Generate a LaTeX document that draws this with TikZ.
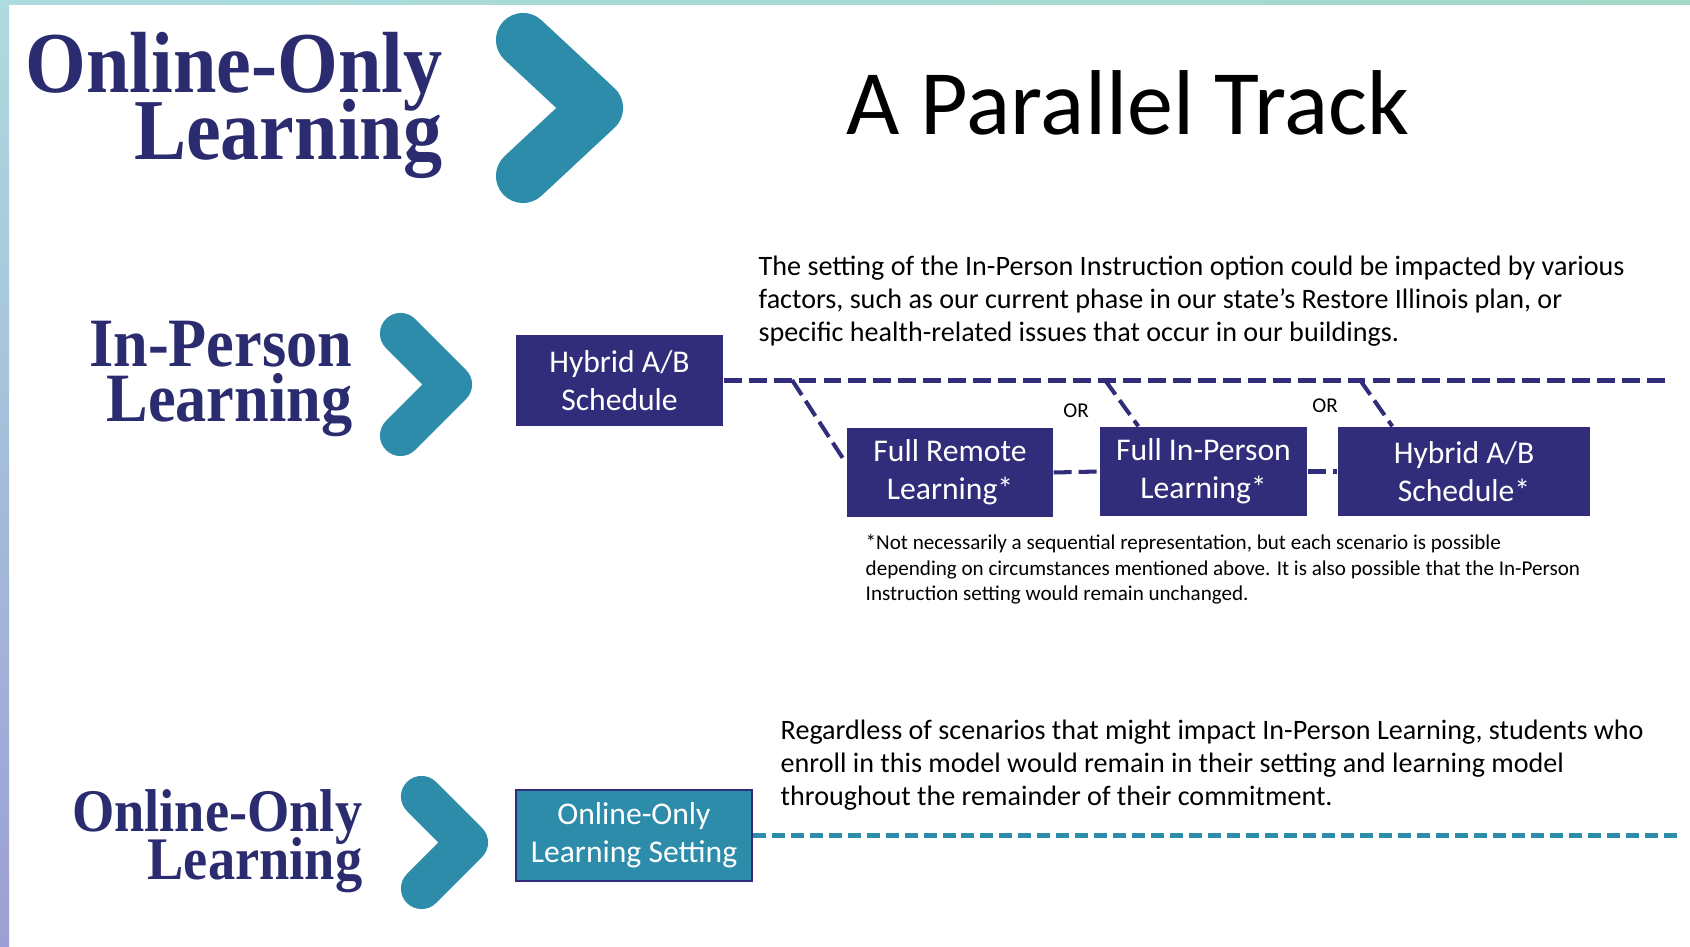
\documentclass[tikz,border=0pt]{standalone}
\usepackage{fontspec}
\setmainfont{Carlito}
\newfontfamily\headfont[FakeStretch=0.9]{Liberation Serif}
\newcommand\tightlines{\lineskiplimit=-30pt\relax}
\definecolor{tracknavy}{RGB}{50,45,122}
\definecolor{headnavy}{RGB}{43,44,111}
\definecolor{trackteal}{RGB}{46,140,171}
\definecolor{frametop}{RGB}{174,219,223}
\definecolor{framebot}{RGB}{156,159,213}
\definecolor{framemint}{RGB}{162,217,200}
\tikzset{
  trackbox/.style={fill=tracknavy,text=white,inner sep=0pt,align=center,
    minimum height=8.9mm,font=\fontsize{9}{10.7}\selectfont},
  heading/.style={anchor=base east,align=right,inner sep=0pt,text=headnavy},
  chevron/.style={draw=trackteal,line cap=round,line join=round},
  bodytext/.style={anchor=base west,align=left,inner sep=0pt,
    font=\fontsize{8}{9.5}\selectfont},
  smalltext/.style={inner sep=0pt,font=\fontsize{6}{7.3}\selectfont},
  navydash/.style={draw=tracknavy,line width=1.15pt,dash pattern=on 5.1pt off 2pt},
  tealdash/.style={draw=trackteal,line width=1.3pt,dash pattern=on 3.7pt off 1.7pt}
}
\begin{document}
\begin{tikzpicture}[x=0.1mm,y=-0.1mm]
%%% page and the coloured frame
\fill[white] (0,0) rectangle (1690,947);
\useasboundingbox (0,0) rectangle (1690,947);
\shade[top color=frametop,bottom color=framebot] (0,0) rectangle (9,947);
\shade[left color=frametop,right color=framemint] (0,0) rectangle (1690,5);

%%% title
\node[anchor=base west,inner sep=0pt,font=\fontsize{26.2}{30}\selectfont] (title) at (846,135) {A Parallel Track};

%%% the three tracks on the left (base = last line)
\node[heading,font=\headfont\bfseries\fontsize{24.7}{19.3}\selectfont\tightlines] (online1) at (443,160) {Online-Only\\Learning};
\draw[chevron,line width=15.4pt] (523,40) -- (596,108) -- (523,176);

\node[heading,font=\headfont\bfseries\fontsize{19.7}{15.9}\selectfont\tightlines] (inperson) at (353,422) {In-Person\\Learning};
\draw[chevron,line width=11.7pt] (400.5,333.5) -- (451.5,384.5) -- (400.5,435.5);

\node[heading,font=\headfont\bfseries\fontsize{17.2}{13.7}\selectfont\tightlines] (online2) at (363,880) {Online-Only\\Learning};
\draw[chevron,line width=11.7pt] (421.5,796.5) -- (467.5,842.5) -- (421.5,888.5);

%%% in-person track
\node[trackbox,minimum width=20.7mm,minimum height=9.1mm] (hyb) at (619.5,380.5) {Hybrid A/B\\Schedule};
\node[trackbox,minimum width=20.6mm] (frl) at (950,472.5) {Full Remote\\Learning*};
\node[trackbox,minimum width=20.7mm] (fip) at (1203.5,471.5) {Full In-Person\\Learning*};
\node[trackbox,minimum width=25.2mm] (hab) at (1464,471.5) {Hybrid A/B\\Schedule*};
\node[smalltext] (or1) at (1076,411) {OR};
\node[smalltext] (or2) at (1325,406) {OR};

\coordinate (navyend) at (1671,380);
\coordinate (br1) at (792,380);
\coordinate (br2) at (1105,380);
\coordinate (br3) at (1360,380);
\draw[navydash] (hyb.east) -- (hyb.east -| navyend);
\draw[navydash] (br1) -- ([yshift=0.9mm]frl.west);
\draw[navydash] (br2) -- ([xshift=3.9mm]fip.north west);
\draw[navydash] (br3) -- ([xshift=5.5mm]hab.north west);
\draw[navydash] (frl.east) -- (fip.west);
\draw[navydash] (fip.east) -- (hab.west);

\node[bodytext] (factors) at (758,342) {The setting of the In-Person Instruction option could be impacted by various\\
factors, such as our current phase in our state’s Restore Illinois plan, or\\
specific health-related issues that occur in our buildings.};
\node[smalltext,anchor=base west,align=left] (note) at (865,601) {*Not necessarily a sequential representation, but each scenario is possible\\
depending on circumstances mentioned above. It is also possible that the In-Person\\
Instruction setting would remain unchanged.};

%%% online-only track
\node[trackbox,fill=trackteal,draw=tracknavy,line width=0.4pt,minimum width=23.6mm,minimum height=9.1mm] (onl) at (634,835.5) {Online-Only\\Learning Setting};
\coordinate (tealend) at (1681,835);
\draw[tealdash] (onl.east) -- (onl.east -| tealend);
\node[bodytext] (regardless) at (780,806) {Regardless of scenarios that might impact In-Person Learning, students who\\
enroll in this model would remain in their setting and learning model\\
throughout the remainder of their commitment.};
\end{tikzpicture}
\end{document}
